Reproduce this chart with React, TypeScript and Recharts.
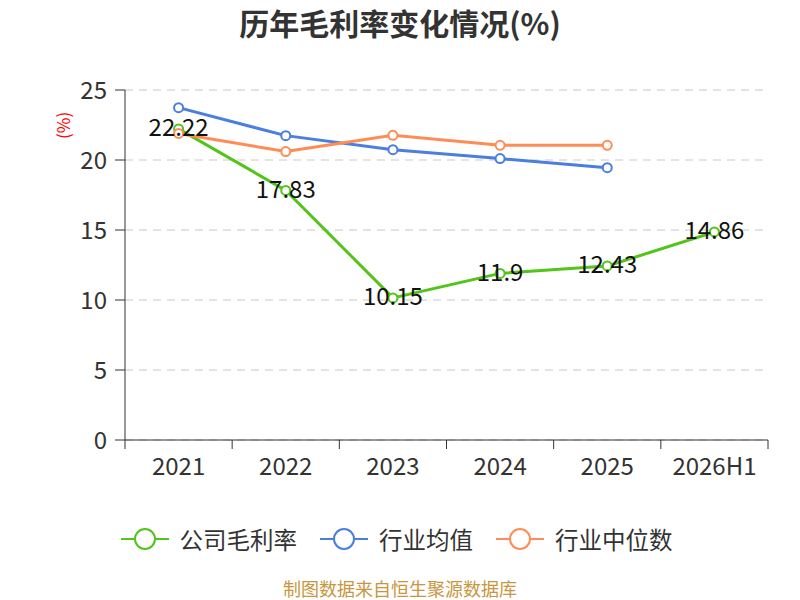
import React from 'react';
import { LineChart, Line, XAxis, YAxis, CartesianGrid, LabelList } from 'recharts';

const categories = ['2021', '2022', '2023', '2024', '2025', '2026H1'];
const companyMargin = [22.22, 17.83, 10.15, 11.9, 12.43, 14.86];
const industryAvg = [23.74, 21.74, 20.74, 20.1, 19.45, null];
const industryMedian = [21.9, 20.6, 21.76, 21.05, 21.05, null];
const yTicks = [0, 5, 10, 15, 20, 25];
const seriesNames = ['公司毛利率', '行业均值', '行业中位数'];
const seriesColors = ['#52c41a', '#4a7ee0', '#ff8c55'];

const FONT = '"Noto Sans CJK SC", "Noto Sans", sans-serif';

const data = categories.map((name, i) => ({
  pos: i + 0.5,
  name,
  company: companyMargin[i],
  avg: industryAvg[i],
  median: industryMedian[i],
}));

const boundTicks = categories.map((_, i) => i).concat(categories.length);
const labelTicks = categories.map((_, i) => i + 0.5);

const dotStyle = (color: string) => ({ r: 4.5, fill: '#fff', stroke: color, strokeWidth: 2 });

function ValueLabel(props: any) {
  const { x, y, value } = props;
  if (value == null) return null;
  return (
    <text x={x} y={y - 3} textAnchor="middle" dominantBaseline="central" fontSize={24} fill="#111" fontFamily={FONT}>
      {value}
    </text>
  );
}

function LegendItem({ name, color }: { name: string; color: string }) {
  return (
    <div style={{ display: 'flex', alignItems: 'center', marginRight: 22 }}>
      <svg width={50} height={24} style={{ marginRight: 10 }}>
        <line x1={1} y1={12} x2={49} y2={12} stroke={color} strokeWidth={2} />
        <circle cx={25} cy={12} r={10} fill="#fff" stroke={color} strokeWidth={2} />
      </svg>
      <span style={{ fontSize: 23.5, color: '#333' }}>{name}</span>
    </div>
  );
}

export default function App() {
  return (
    <div style={{ position: 'absolute', left: 0, top: 0, width: 800, height: 600, background: '#fff', fontFamily: FONT }}>
      <div style={{ position: 'absolute', top: 2, width: 800, textAlign: 'center', fontSize: 30, fontWeight: 700, color: '#333', lineHeight: '40px' }}>
        历年毛利率变化情况(%)
      </div>
      <div style={{ position: 'absolute', left: 50, top: 114, width: 26, height: 24, transform: 'rotate(-90deg)', color: '#f00', fontSize: 17, lineHeight: '24px', textAlign: 'center' }}>
        (%)
      </div>
      <LineChart width={800} height={600} data={data} margin={{ top: 90, right: 32, left: 65, bottom: 110 }}>
        <CartesianGrid xAxisId="bound" vertical={false} stroke="#c8c8c8" strokeDasharray="8 6" />
        <XAxis
          xAxisId="bound"
          dataKey="pos"
          type="number"
          domain={[0, categories.length]}
          ticks={boundTicks}
          tick={() => <g />}
          tickSize={9}
          height={10}
          axisLine={{ stroke: '#333' }}
          tickLine={{ stroke: '#333' }}
        />
        <XAxis
          xAxisId="label"
          dataKey="pos"
          type="number"
          domain={[0, categories.length]}
          ticks={labelTicks}
          tickFormatter={(v: number) => categories[Math.round(v - 0.5)]}
          axisLine={false}
          tickLine={false}
          height={40}
          tick={{ fill: '#333', fontSize: 24, fontFamily: FONT }}
        />
        <YAxis
          domain={[0, 25]}
          ticks={yTicks}
          width={60}
          tickSize={10}
          tickMargin={8}
          axisLine={{ stroke: '#333' }}
          tickLine={{ stroke: '#333' }}
          tick={{ fill: '#333', fontSize: 24, fontFamily: FONT }}
        />
        <Line xAxisId="bound" type="linear" dataKey="company" name={seriesNames[0]} stroke={seriesColors[0]} strokeWidth={3} dot={dotStyle(seriesColors[0])} activeDot={false} isAnimationActive={false} />
        <Line xAxisId="bound" type="linear" dataKey="avg" name={seriesNames[1]} stroke={seriesColors[1]} strokeWidth={3} dot={dotStyle(seriesColors[1])} activeDot={false} isAnimationActive={false} />
        <Line xAxisId="bound" type="linear" dataKey="median" name={seriesNames[2]} stroke={seriesColors[2]} strokeWidth={3} dot={dotStyle(seriesColors[2])} activeDot={false} isAnimationActive={false} />
        <Line xAxisId="bound" type="linear" dataKey="company" stroke="none" dot={false} activeDot={false} legendType="none" isAnimationActive={false}>
          <LabelList dataKey="company" content={ValueLabel} />
        </Line>
      </LineChart>
      <div style={{ position: 'absolute', top: 522, left: 0, width: 800, display: 'flex', justifyContent: 'center', paddingLeft: 14, boxSizing: 'border-box' }}>
        {seriesNames.map((n, i) => (
          <LegendItem key={n} name={n} color={seriesColors[i]} />
        ))}
      </div>
      <div style={{ position: 'absolute', top: 575, width: 800, textAlign: 'center', fontSize: 18, color: '#c8963e', lineHeight: '26px' }}>
        制图数据来自恒生聚源数据库
      </div>
    </div>
  );
}
